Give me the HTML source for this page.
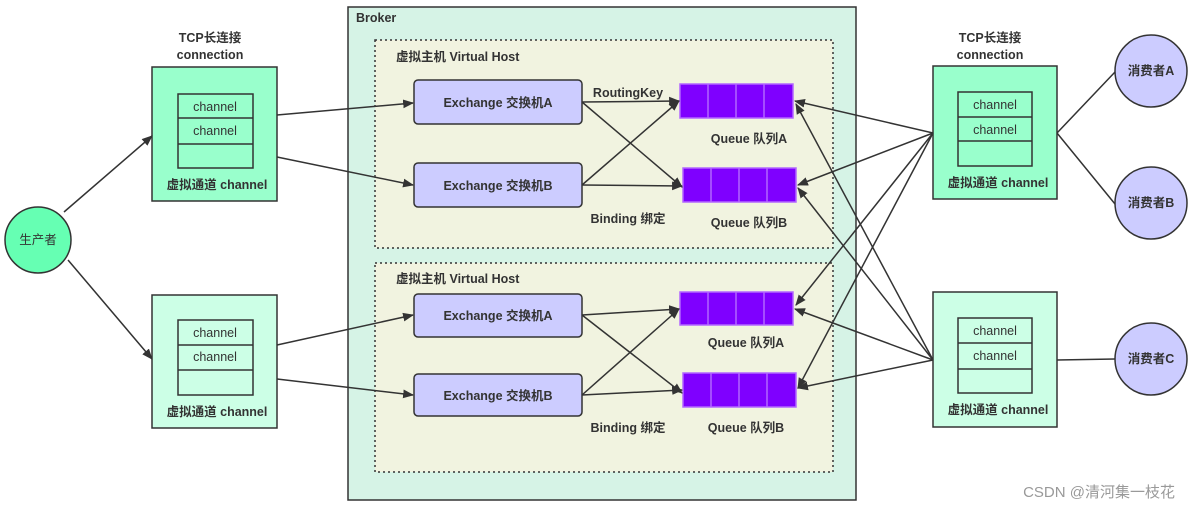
<!DOCTYPE html>
<html><head><meta charset="utf-8"><style>
html,body{margin:0;padding:0;background:#fff}
svg{display:block}
text{font-family:"Liberation Sans","Noto Sans CJK SC",sans-serif;fill:#333}
.b{font-weight:bold}
</style></head><body>
<svg width="1190" height="509" viewBox="0 0 1190 509" xmlns="http://www.w3.org/2000/svg">
<defs>
<marker id="a" viewBox="0 0 10 10" refX="9" refY="5" markerWidth="11" markerHeight="11" markerUnits="userSpaceOnUse" orient="auto"><path d="M0,1 L10,5 L0,9 z" fill="#333"/></marker>
</defs>
<rect x="348" y="7" width="508" height="493" fill="#d6f3e6" stroke="#333" stroke-width="1.5"/>
<text x="356" y="22" font-size="12.5" class="b">Broker</text>
<rect x="375" y="40" width="458" height="208" fill="#f1f3e0" stroke="#333" stroke-width="1.5" stroke-dasharray="2,3"/>
<rect x="375" y="263" width="458" height="209" fill="#f1f3e0" stroke="#333" stroke-width="1.5" stroke-dasharray="2,3"/>
<text x="396" y="61" font-size="12.5" class="b">虚拟主机 Virtual Host</text>
<text x="396" y="283" font-size="12.5" class="b">虚拟主机 Virtual Host</text>
<g fill="#ccccff" stroke="#333" stroke-width="1.5">
<rect x="414" y="80" width="168" height="44" rx="4"/>
<rect x="414" y="163" width="168" height="44" rx="4"/>
<rect x="414" y="294" width="168" height="43" rx="4"/>
<rect x="414" y="374" width="168" height="42" rx="4"/>
</g>
<g font-size="12.5" class="b" text-anchor="middle">
<text x="498" y="107">Exchange 交换机A</text>
<text x="498" y="190">Exchange 交换机B</text>
<text x="498" y="320">Exchange 交换机A</text>
<text x="498" y="400">Exchange 交换机B</text>
</g>
<g fill="#7f00ff" stroke="#b266ff" stroke-width="1.5">
<rect x="680" y="84" width="113" height="34"/>
<rect x="683" y="168" width="113" height="34"/>
<rect x="680" y="292" width="113" height="33"/>
<rect x="683" y="373" width="113" height="34"/>
</g>
<g stroke="#b266ff" stroke-width="1.5">
<path d="M708 84v34M736 84v34M764 84v34"/>
<path d="M711 168v34M739 168v34M767 168v34"/>
<path d="M708 292v33M736 292v33M764 292v33"/>
<path d="M711 373v34M739 373v34M767 373v34"/>
</g>
<g font-size="12.5" class="b" text-anchor="middle">
<text x="749" y="143">Queue 队列A</text>
<text x="749" y="227">Queue 队列B</text>
<text x="746" y="347">Queue 队列A</text>
<text x="746" y="432">Queue 队列B</text>
<text x="628" y="97">RoutingKey</text>
<text x="628" y="223">Binding 绑定</text>
<text x="628" y="432">Binding 绑定</text>
</g>
<rect x="152" y="67" width="125" height="134" fill="#99ffcc" stroke="#333" stroke-width="1.5"/>
<rect x="152" y="295" width="125" height="133" fill="#ccffe6" stroke="#333" stroke-width="1.5"/>
<rect x="933" y="66" width="124" height="133" fill="#99ffcc" stroke="#333" stroke-width="1.5"/>
<rect x="933" y="292" width="124" height="135" fill="#ccffe6" stroke="#333" stroke-width="1.5"/>
<g fill="none" stroke="#333" stroke-width="1.5">
<rect x="178" y="94" width="75" height="74"/><path d="M178 118h75M178 144h75"/>
<rect x="178" y="320" width="75" height="75"/><path d="M178 345h75M178 370h75"/>
<rect x="958" y="92" width="74" height="74"/><path d="M958 117h74M958 141h74"/>
<rect x="958" y="318" width="74" height="75"/><path d="M958 343h74M958 369h74"/>
</g>
<g font-size="12.5" text-anchor="middle">
<text x="215" y="111">channel</text><text x="215" y="135">channel</text>
<text x="215" y="337">channel</text><text x="215" y="361">channel</text>
<text x="995" y="109">channel</text><text x="995" y="134">channel</text>
<text x="995" y="335">channel</text><text x="995" y="360">channel</text>
</g>
<g font-size="12.5" class="b" text-anchor="middle">
<text x="217" y="189">虚拟通道 channel</text>
<text x="217" y="416">虚拟通道 channel</text>
<text x="998" y="187">虚拟通道 channel</text>
<text x="998" y="414">虚拟通道 channel</text>
<text x="210" y="42">TCP长连接</text>
<text x="210" y="59">connection</text>
<text x="990" y="42">TCP长连接</text>
<text x="990" y="59">connection</text>
</g>
<circle cx="38" cy="240" r="33" fill="#66ffb3" stroke="#333" stroke-width="1.5"/>
<text x="38" y="244" font-size="12.5" text-anchor="middle">生产者</text>
<g fill="#ccccff" stroke="#333" stroke-width="1.5">
<circle cx="1151" cy="71" r="36"/><circle cx="1151" cy="203" r="36"/><circle cx="1151" cy="359" r="36"/>
</g>
<g font-size="12.5" class="b" text-anchor="middle">
<text x="1151" y="75">消费者A</text><text x="1151" y="207">消费者B</text><text x="1151" y="363">消费者C</text>
</g>
<g stroke="#333" stroke-width="1.5" fill="none">
<path d="M1057 133L1115 72M1057 133L1115 204M1057 360L1115 359"/>
</g>
<g stroke="#333" stroke-width="1.5" fill="none" marker-end="url(#a)">
<path d="M64 212L152 136"/>
<path d="M68 260L152 359"/>
<path d="M277 115L413 103"/>
<path d="M277 157L413 185"/>
<path d="M277 345L413 315"/>
<path d="M277 379L413 395"/>
<path d="M582 102L679 101"/>
<path d="M582 102L682 187"/>
<path d="M582 185L679 101"/>
<path d="M582 185L682 186"/>
<path d="M582 315L679 309"/>
<path d="M582 315L682 393"/>
<path d="M582 395L679 309"/>
<path d="M582 395L682 390"/>
<path d="M933 133L795 101"/>
<path d="M933 133L798 185"/>
<path d="M933 133L796 305"/>
<path d="M933 133L798 388"/>
<path d="M933 360L796 104"/>
<path d="M933 360L798 188"/>
<path d="M933 360L795 309"/>
<path d="M933 360L798 388"/>
</g>
<text x="1175" y="497" font-size="15" text-anchor="end" style="fill:#999">CSDN @清河集一枝花</text>
</svg>
</body></html>
